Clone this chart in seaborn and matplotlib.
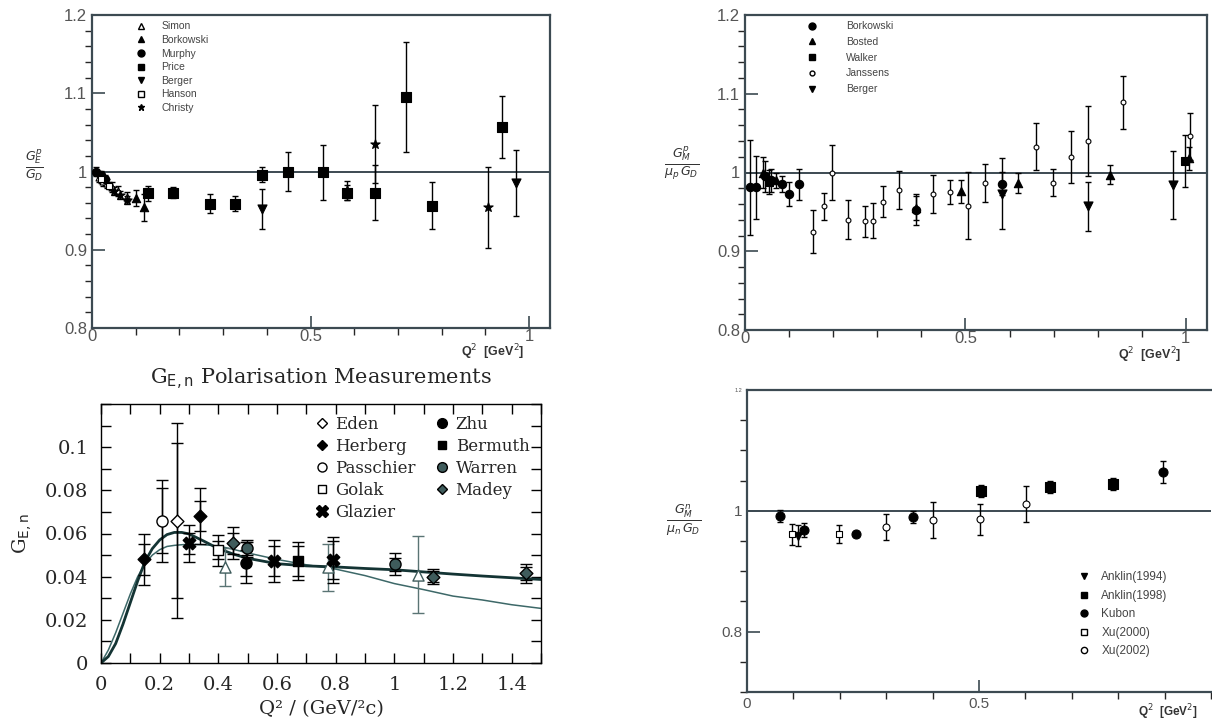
import numpy as np
import pandas as pd
import matplotlib
matplotlib.use("Agg")
import matplotlib.pyplot as plt
from matplotlib.lines import Line2D
from matplotlib.ticker import MultipleLocator, FixedLocator, FixedFormatter
import seaborn as sns

# ---------------- DATA ----------------
# Top-left: G_E^p / G_D
tl_simon_x = [0.015, 0.025, 0.035, 0.045, 0.06, 0.08]
tl_simon_y = [0.993, 0.988, 0.985, 0.980, 0.975, 0.968]
tl_simon_e = [0.006, 0.006, 0.006, 0.006, 0.006, 0.006]
tl_bork_x = [0.100, 0.119]
tl_bork_y = [0.966, 0.954]
tl_bork_e = [0.010, 0.017]
tl_murphy_x = [0.010, 0.020, 0.030]
tl_murphy_y = [1.000, 0.995, 0.990]
tl_murphy_e = [0.006, 0.006, 0.006]
tl_price_x = [0.128, 0.186, 0.270, 0.327, 0.389, 0.449, 0.529, 0.583, 0.648, 0.719, 0.778, 0.938]
tl_price_y = [0.972, 0.973, 0.959, 0.959, 0.996, 1.000, 0.999, 0.973, 0.973, 1.095, 0.956, 1.057]
tl_price_e = [0.010, 0.007, 0.012, 0.010, 0.010, 0.025, 0.035, 0.010, 0.035, 0.070, 0.030, 0.040]
tl_berger_x = [0.389, 0.970]
tl_berger_y = [0.952, 0.985]
tl_berger_e = [0.025, 0.042]
tl_hanson_x = [0.020, 0.040]
tl_hanson_y = [0.990, 0.982]
tl_hanson_e = [0.005, 0.005]
tl_christy_x = [0.050, 0.065, 0.080, 0.583, 0.648, 0.906]
tl_christy_y = [0.975, 0.970, 0.964, 0.976, 1.035, 0.954]
tl_christy_e = [0.005, 0.005, 0.005, 0.012, 0.050, 0.052]

# Top-right: G_M^p / (mu_p G_D)
tr_bork_x = [0.012, 0.025, 0.045, 0.060, 0.084, 0.100, 0.123, 0.388, 0.584]
tr_bork_y = [0.981, 0.981, 0.995, 0.990, 0.985, 0.973, 0.985, 0.953, 0.986]
tr_bork_e = [0.060, 0.040, 0.020, 0.015, 0.010, 0.015, 0.020, 0.020, 0.015]
tr_bosted_x = [0.040, 0.070, 0.388, 0.489, 0.619, 0.828, 1.007]
tr_bosted_y = [1.000, 0.990, 0.955, 0.976, 0.987, 0.997, 1.018]
tr_bosted_e = [0.020, 0.010, 0.015, 0.015, 0.013, 0.012, 0.015]
tr_walker_x = [0.055, 0.998]
tr_walker_y = [0.988, 1.015]
tr_walker_e = [0.015, 0.033]
tr_jans_x = [0.155, 0.179, 0.197, 0.234, 0.272, 0.290, 0.312, 0.349, 0.427, 0.466, 0.506,
             0.544, 0.660, 0.699, 0.739, 0.778, 0.857, 1.010]
tr_jans_y = [0.925, 0.957, 1.000, 0.940, 0.938, 0.939, 0.963, 0.978, 0.973, 0.975, 0.958,
             0.987, 1.033, 0.987, 1.020, 1.040, 1.089, 1.046]
tr_jans_e = [0.027, 0.017, 0.035, 0.025, 0.020, 0.022, 0.020, 0.024, 0.024, 0.015, 0.043,
             0.024, 0.030, 0.017, 0.033, 0.044, 0.034, 0.030]
tr_berger_x = [0.584, 0.778, 0.971]
tr_berger_y = [0.973, 0.957, 0.984]
tr_berger_e = [0.045, 0.031, 0.043]

# Bottom-left: G_E,n polarisation measurements
bl_eden_x, bl_eden_y, bl_eden_e, bl_eden_es = [0.258], [0.066], [0.045], [0.036]
bl_herb_x = [0.148, 0.337]
bl_herb_y = [0.048, 0.068]
bl_herb_e = [0.012, 0.013]
bl_herb_es = [0.007, 0.007]
bl_pass_x, bl_pass_y, bl_pass_e, bl_pass_es = [0.209], [0.066], [0.019], [0.015]
bl_golak_x, bl_golak_y, bl_golak_e, bl_golak_es = [0.400], [0.0523], [0.0072], [0.004]
bl_glaz_x = [0.300, 0.589, 0.791]
bl_glaz_y = [0.0554, 0.0472, 0.0477]
bl_glaz_e = [0.0085, 0.0097, 0.0108]
bl_glaz_es = [0.005, 0.007, 0.009]
bl_zhu_x, bl_zhu_y, bl_zhu_e, bl_zhu_es = [0.496], [0.0465], [0.0095], [0.006]
bl_berm_x, bl_berm_y, bl_berm_e, bl_berm_es = [0.670], [0.0472], [0.0088], [0.007]
bl_warren_x = [0.498, 1.001]
bl_warren_y = [0.0531, 0.0458]
bl_warren_e = [0.004, 0.0052]
bl_warren_es = [0.003, 0.003]
bl_madey_x = [0.451, 1.132, 1.450]
bl_madey_y = [0.0554, 0.0400, 0.0415]
bl_madey_e = [0.0074, 0.0036, 0.0046]
bl_madey_es = [0.005, 0.0025, 0.003]
bl_tri_x = [0.422, 0.774, 1.081]
bl_tri_y = [0.0446, 0.0443, 0.0410]
bl_tri_e = [0.0088, 0.0110, 0.0180]
bl_fit_q = [0, 0.025, 0.05, 0.075, 0.1, 0.125, 0.15, 0.175, 0.2, 0.225, 0.25, 0.275, 0.3,
            0.35, 0.4, 0.45, 0.5, 0.6, 0.7, 0.8, 0.9, 1.0, 1.1, 1.2, 1.3, 1.4, 1.5]
bl_fit_thick = [0, 0.003, 0.009, 0.018, 0.028, 0.038, 0.047, 0.053, 0.057, 0.0595, 0.0605,
                0.0605, 0.0598, 0.0565, 0.053, 0.0505, 0.0485, 0.046, 0.045, 0.0445, 0.0438,
                0.0432, 0.0422, 0.0412, 0.0403, 0.0395, 0.0387]
bl_fit_thin = [0, 0.006, 0.014, 0.023, 0.032, 0.040, 0.046, 0.050, 0.0525, 0.054, 0.0545,
               0.0548, 0.055, 0.0548, 0.0542, 0.0527, 0.051, 0.048, 0.0455, 0.0435, 0.0405,
               0.0368, 0.034, 0.031, 0.0292, 0.027, 0.0253]

# Bottom-right: G_M^n / (mu_n G_D)
br_ank94_x, br_ank94_y, br_ank94_e = [0.110], [0.959], [0.018]
br_ank98_x = [0.505, 0.652, 0.788]
br_ank98_y = [1.033, 1.039, 1.045]
br_ank98_e = [0.010, 0.010, 0.010]
br_kubon_x = [0.071, 0.123, 0.235, 0.358, 0.896]
br_kubon_y = [0.991, 0.968, 0.962, 0.990, 1.064]
br_kubon_e = [0.010, 0.012, 0.005, 0.010, 0.018]
br_xu00_x = [0.096, 0.198]
br_xu00_y = [0.961, 0.961]
br_xu00_e = [0.017, 0.015]
br_xu02_x = [0.299, 0.401, 0.502, 0.602]
br_xu02_y = [0.973, 0.985, 0.986, 1.011]
br_xu02_e = [0.021, 0.030, 0.026, 0.030]

# ---------------- STYLE ----------------
sns.set_style("ticks")
plt.rcParams['font.family'] = ['Liberation Sans', 'DejaVu Sans']
plt.rcParams['mathtext.fontset'] = 'dejavusans'

W, H = 1212, 727
fig = plt.figure(figsize=(W / 100, H / 100), dpi=100)


def px_axes(x0, y0, x1, y1):
    return fig.add_axes([x0 / W, 1 - y1 / H, (x1 - x0) / W, (y1 - y0) / H])


SPINE = "#3c4a52"
TXT = "#555555"


def errs(ax, x, y, e, marker, fc, ec, size, color="black", lw=1.0, cap=2.5, mew=0.8, z=3):
    ax.errorbar(x, y, yerr=e, fmt="none", ecolor=color, elinewidth=lw, capsize=cap,
                capthick=lw, zorder=z - 1)
    df = pd.DataFrame({"x": x, "y": y})
    sns.scatterplot(data=df, x="x", y="y", marker=marker, s=size ** 2, color=fc,
                    edgecolor=ec, linewidth=mew, ax=ax, legend=False, zorder=z)


def style_top(ax):
    for s in ax.spines.values():
        s.set_color(SPINE)
        s.set_linewidth(1.6)
    ax.tick_params(direction="in", colors=SPINE, labelcolor=TXT, labelsize=12, width=1.2)
    ax.tick_params(which="major", length=9)
    ax.tick_params(which="minor", length=5, width=1.0)
    ax.set_xlabel("")
    ax.set_ylabel("")


# ---------------- TOP-LEFT ----------------
ax1 = px_axes(92, 15, 550, 328)
ax1.axhline(1.0, color=SPINE, lw=1.4, zorder=1)
errs(ax1, tl_simon_x, tl_simon_y, tl_simon_e, "^", "white", "black", 5)
errs(ax1, tl_bork_x, tl_bork_y, tl_bork_e, "^", "black", "black", 6)
errs(ax1, tl_murphy_x, tl_murphy_y, tl_murphy_e, "o", "black", "black", 6)
errs(ax1, tl_price_x, tl_price_y, tl_price_e, "s", "black", "black", 6.5)
errs(ax1, tl_berger_x, tl_berger_y, tl_berger_e, "v", "black", "black", 6.5)
errs(ax1, tl_hanson_x, tl_hanson_y, tl_hanson_e, "s", "white", "black", 5)
errs(ax1, tl_christy_x, tl_christy_y, tl_christy_e, "*", "black", "black", 7)
ax1.set_xlim(0, 1.048)
ax1.set_ylim(0.8, 1.2)
ax1.xaxis.set_major_locator(FixedLocator([0, 0.5, 1]))
ax1.xaxis.set_major_formatter(FixedFormatter(["0", "0.5", "1"]))
ax1.xaxis.set_minor_locator(MultipleLocator(0.1))
ax1.yaxis.set_major_locator(FixedLocator([0.8, 0.9, 1.0, 1.1, 1.2]))
ax1.yaxis.set_major_formatter(FixedFormatter(["0.8", "0.9", "1", "1.1", "1.2"]))
ax1.yaxis.set_minor_locator(MultipleLocator(0.02))
style_top(ax1)
ax1.tick_params(axis="x", pad=1)
h1 = [Line2D([], [], ls="none", marker=m, mfc=fc, mec="black", ms=5)
      for m, fc in [("^", "white"), ("^", "black"), ("o", "black"), ("s", "black"),
                    ("v", "black"), ("s", "white"), ("*", "black")]]
leg = ax1.legend(h1, ["Simon", "Borkowski", "Murphy", "Price", "Berger", "Hanson", "Christy"],
                 loc="upper left", bbox_to_anchor=(0.07, 1.0), frameon=False, fontsize=7.5,
                 labelspacing=0.35, handletextpad=1.0, borderaxespad=0.2)
for t in leg.get_texts():
    t.set_color("#444444")
fig.text(34 / W, 1 - 165 / H, r"$\frac{G_E^p}{G_D}$", fontsize=13, color="#333333",
         ha="center", va="center")
fig.text(493 / W, 1 - 352 / H, r"Q$^2$  [GeV$^2$]", fontsize=9, fontweight="bold",
         color="#333333", ha="center", va="center")

# ---------------- TOP-RIGHT ----------------
ax2 = px_axes(745, 15, 1207, 330)
ax2.axhline(1.0, color=SPINE, lw=1.4, zorder=1)
errs(ax2, tr_bork_x, tr_bork_y, tr_bork_e, "o", "black", "black", 6)
errs(ax2, tr_bosted_x, tr_bosted_y, tr_bosted_e, "^", "black", "black", 6)
errs(ax2, tr_walker_x, tr_walker_y, tr_walker_e, "s", "black", "black", 6)
errs(ax2, tr_jans_x, tr_jans_y, tr_jans_e, "o", "white", "black", 3.5)
errs(ax2, tr_berger_x, tr_berger_y, tr_berger_e, "v", "black", "black", 6.5)
ax2.set_xlim(0, 1.048)
ax2.set_ylim(0.8, 1.2)
ax2.xaxis.set_major_locator(FixedLocator([0, 0.5, 1]))
ax2.xaxis.set_major_formatter(FixedFormatter(["0", "0.5", "1"]))
ax2.xaxis.set_minor_locator(MultipleLocator(0.1))
ax2.yaxis.set_major_locator(FixedLocator([0.8, 0.9, 1.0, 1.1, 1.2]))
ax2.yaxis.set_major_formatter(FixedFormatter(["0.8", "0.9", "1", "1.1", "1.2"]))
ax2.yaxis.set_minor_locator(MultipleLocator(0.02))
style_top(ax2)
ax2.tick_params(axis="x", pad=1)
h2 = [Line2D([], [], ls="none", marker=m, mfc=fc, mec="black", ms=ms)
      for m, fc, ms in [("o", "black", 5), ("^", "black", 5), ("s", "black", 5),
                        ("o", "white", 3.5), ("v", "black", 5)]]
leg2 = ax2.legend(h2, ["Borkowski", "Bosted", "Walker", "Janssens", "Berger"],
                  loc="upper left", bbox_to_anchor=(0.11, 1.0), frameon=False, fontsize=7.5,
                  labelspacing=0.55, handletextpad=2.2, borderaxespad=0.2)
for t in leg2.get_texts():
    t.set_color("#444444")
fig.text(682 / W, 1 - 163 / H, r"$\frac{G_M^p}{\mu_p\,G_D}$", fontsize=13, color="#333333",
         ha="center", va="center")
fig.text(1150 / W, 1 - 355 / H, r"Q$^2$  [GeV$^2$]", fontsize=9, fontweight="bold",
         color="#333333", ha="center", va="center")

# ---------------- BOTTOM-LEFT ----------------
SERIF = ['DejaVu Serif']
TEAL = "#3f5c5c"
ax3 = px_axes(101, 404, 541, 663)
fit_df = pd.DataFrame({"q": bl_fit_q, "thick": bl_fit_thick, "thin": bl_fit_thin})
sns.lineplot(data=fit_df, x="q", y="thin", ax=ax3, color="#3d6868", lw=1.1, sort=False, zorder=1)
sns.lineplot(data=fit_df, x="q", y="thick", ax=ax3, color="#143434", lw=2.0, sort=False, zorder=1)


def errs2(ax, x, y, e, es, marker, fc, ec, size, color="black"):
    ax.errorbar(x, y, yerr=e, fmt="none", ecolor=color, elinewidth=1.0, capsize=4,
                capthick=1.0, zorder=2)
    if es is not None:
        ax.errorbar(x, y, yerr=es, fmt="none", ecolor=color, elinewidth=1.0, capsize=4,
                    capthick=1.0, zorder=2)
    df = pd.DataFrame({"x": x, "y": y})
    sns.scatterplot(data=df, x="x", y="y", marker=marker, s=size ** 2, color=fc,
                    edgecolor=ec, linewidth=1.0, ax=ax, legend=False, zorder=3)


errs2(ax3, bl_tri_x, bl_tri_y, bl_tri_e, None, "^", "white", TEAL, 8, color="#5a7474")
errs2(ax3, bl_eden_x, bl_eden_y, bl_eden_e, bl_eden_es, "D", "white", "black", 6.5)
errs2(ax3, bl_herb_x, bl_herb_y, bl_herb_e, bl_herb_es, "D", "black", "black", 6.5)
errs2(ax3, bl_pass_x, bl_pass_y, bl_pass_e, bl_pass_es, "o", "white", "black", 8)
errs2(ax3, bl_golak_x, bl_golak_y, bl_golak_e, bl_golak_es, "s", "white", "black", 7)
errs2(ax3, bl_glaz_x, bl_glaz_y, bl_glaz_e, bl_glaz_es, "X", "black", "black", 9)
errs2(ax3, bl_zhu_x, bl_zhu_y, bl_zhu_e, bl_zhu_es, "o", "black", "black", 8)
errs2(ax3, bl_berm_x, bl_berm_y, bl_berm_e, bl_berm_es, "s", "black", "black", 7)
errs2(ax3, bl_warren_x, bl_warren_y, bl_warren_e, bl_warren_es, "o", TEAL, "black", 8)
errs2(ax3, bl_madey_x, bl_madey_y, bl_madey_e, bl_madey_es, "D", TEAL, "black", 6.5)
ax3.set_xlim(0, 1.5)
ax3.set_ylim(0, 0.12)
ax3.xaxis.set_major_locator(FixedLocator([0, 0.2, 0.4, 0.6, 0.8, 1.0, 1.2, 1.4]))
ax3.xaxis.set_major_formatter(FixedFormatter(["0", "0.2", "0.4", "0.6", "0.8", "1", "1.2", "1.4"]))
ax3.xaxis.set_minor_locator(MultipleLocator(0.1))
ax3.yaxis.set_major_locator(FixedLocator([0, 0.02, 0.04, 0.06, 0.08, 0.1]))
ax3.yaxis.set_major_formatter(FixedFormatter(["0", "0.02", "0.04", "0.06", "0.08", "0.1"]))
ax3.yaxis.set_minor_locator(MultipleLocator(0.01))
ax3.tick_params(which="both", direction="in", top=True, right=True, width=1.0, color="black")
ax3.tick_params(which="major", length=7)
ax3.tick_params(which="minor", length=7)
ax3.tick_params(labelsize=14)
ax3.tick_params(axis="x", pad=9)
ax3.tick_params(axis="y", pad=9)
for lab in ax3.get_xticklabels() + ax3.get_yticklabels():
    lab.set_family(SERIF)
for s in ax3.spines.values():
    s.set_color("black")
    s.set_linewidth(1.0)
ax3.set_xlabel("Q² / (GeV/²c)", family=SERIF, fontsize=14, labelpad=5)
ax3.set_ylabel("G$_{\\mathrm{E,n}}$", family=SERIF, fontsize=14, labelpad=8)
ax3.set_title("G$_{\\mathrm{E,n}}$ Polarisation Measurements", family=SERIF, fontsize=15, pad=14)
h3 = [Line2D([], [], ls="none", marker=m, mfc=fc, mec="black", ms=ms)
      for m, fc, ms in [("D", "white", 5.5), ("D", "black", 5.5), ("o", "white", 6.5),
                        ("s", "white", 6), ("X", "black", 8), ("o", "black", 7),
                        ("s", "black", 6), ("o", TEAL, 7), ("D", TEAL, 5.5)]]
labs3 = ["Eden", "Herberg", "Passchier", "Golak", "Glazier", "Zhu", "Bermuth", "Warren", "Madey"]
leg3 = ax3.legend(h3, labs3, ncol=2, loc="upper right", bbox_to_anchor=(1.0, 1.0),
                  frameon=False, prop={"family": SERIF, "size": 12}, labelspacing=0.3,
                  handletextpad=0.1, columnspacing=0.9, borderaxespad=0.3, handlelength=1.4)

# ---------------- BOTTOM-RIGHT ----------------
ax4 = px_axes(747, 390, 1211, 692)
ax4.axhline(1.0, color=SPINE, lw=1.4, zorder=1)
errs(ax4, br_ank94_x, br_ank94_y, br_ank94_e, "v", "black", "black", 6)
errs(ax4, br_ank98_x, br_ank98_y, br_ank98_e, "s", "black", "black", 6.5)
errs(ax4, br_kubon_x, br_kubon_y, br_kubon_e, "o", "black", "black", 6.5)
errs(ax4, br_xu00_x, br_xu00_y, br_xu00_e, "s", "white", "black", 5)
errs(ax4, br_xu02_x, br_xu02_y, br_xu02_e, "o", "white", "black", 5)
ax4.set_xlim(0, 1.0)
ax4.set_ylim(0.7, 1.2)
ax4.xaxis.set_major_locator(FixedLocator([0, 0.5]))
ax4.xaxis.set_major_formatter(FixedFormatter(["0", "0.5"]))
ax4.xaxis.set_minor_locator(MultipleLocator(0.1))
ax4.yaxis.set_major_locator(FixedLocator([0.8, 1.0, 1.2]))
ax4.yaxis.set_major_formatter(FixedFormatter(["0.8", "1", "1.2"]))
ax4.yaxis.set_minor_locator(MultipleLocator(0.05))
style_top(ax4)
ax4.spines["right"].set_visible(False)
ax4.tick_params(labelsize=11)
ax4.get_yticklabels()[-1].set_fontsize(4)
h4 = [Line2D([], [], ls="none", marker=m, mfc=fc, mec="black", ms=ms)
      for m, fc, ms in [("v", "black", 5), ("s", "black", 5), ("o", "black", 5),
                        ("s", "white", 4.5), ("o", "white", 4.5)]]
leg4 = ax4.legend(h4, ["Anklin(1994)", "Anklin(1998)", "Kubon", "Xu(2000)", "Xu(2002)"],
                  loc="lower right", bbox_to_anchor=(0.93, 0.08), frameon=False, fontsize=8.5,
                  labelspacing=0.55, handletextpad=0.5)
for t in leg4.get_texts():
    t.set_color("#444444")
fig.text(684 / W, 1 - 520 / H, r"$\frac{G_M^n}{\mu_n\,G_D}$", fontsize=13, color="#333333",
         ha="center", va="center")
fig.text(1168 / W, 1 - 712 / H, r"Q$^2$  [GeV$^2$]", fontsize=8.5, fontweight="bold",
         color="#333333", ha="center", va="center")

fig.savefig("out.png", dpi=100)
